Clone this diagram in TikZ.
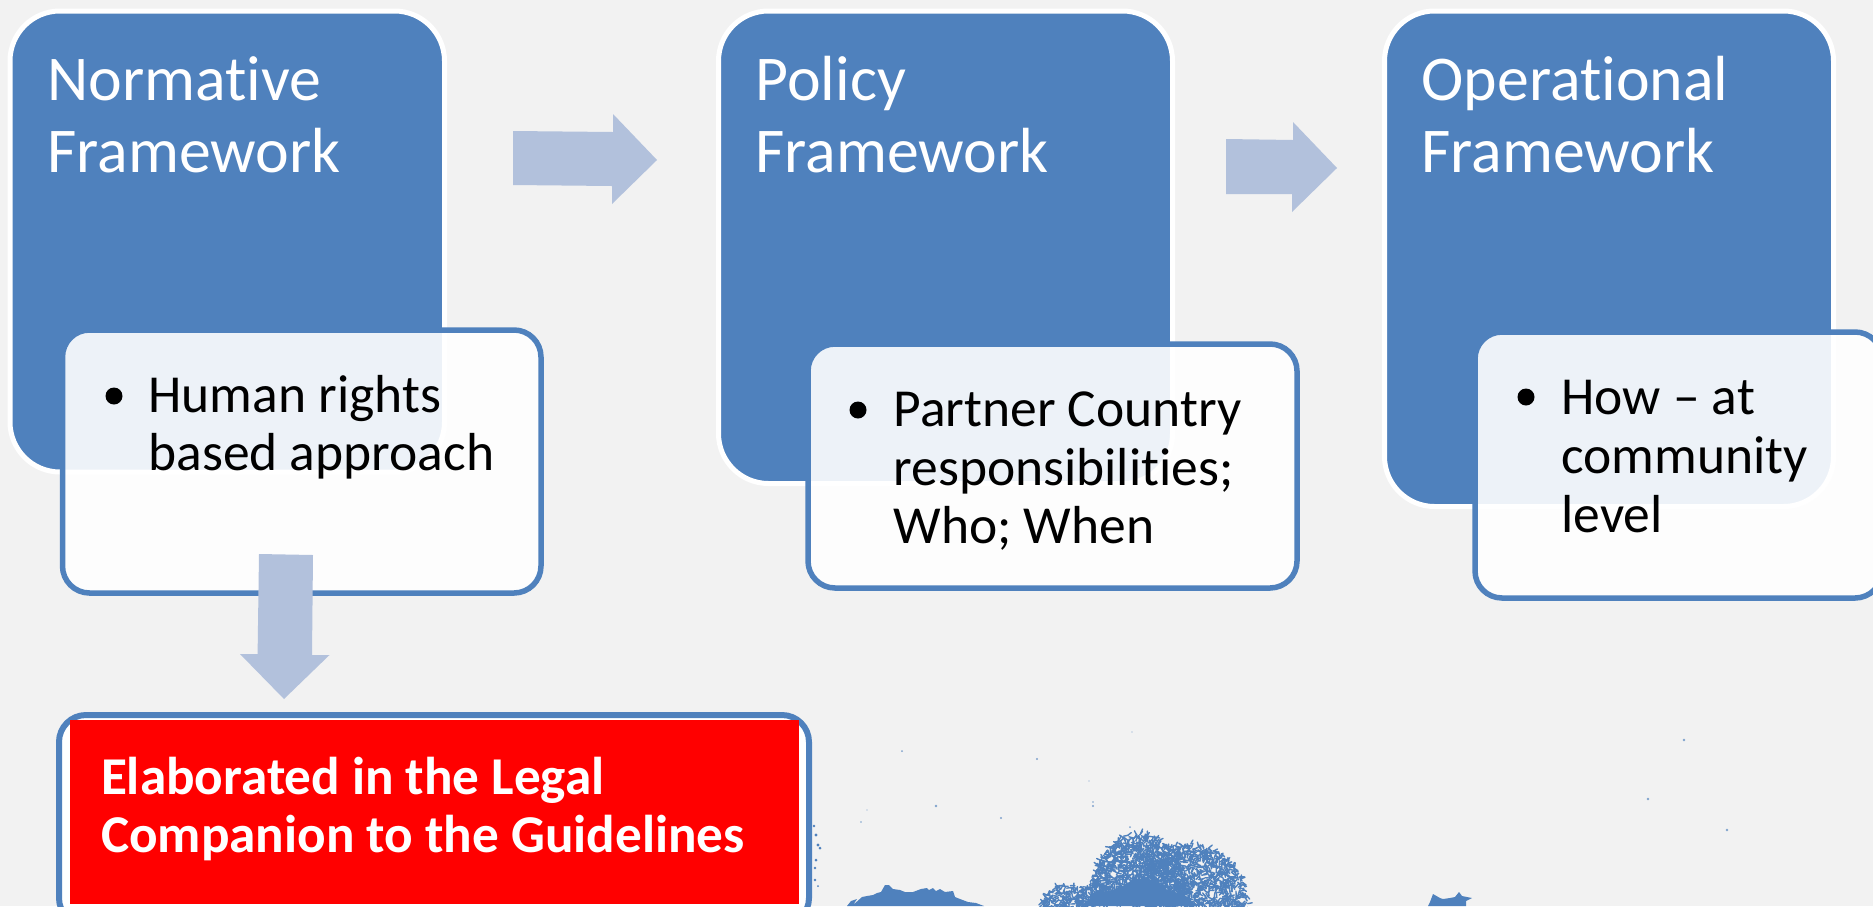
\documentclass[tikz,border=0pt]{standalone}
\usepackage{fontspec}
\setmainfont{Carlito}[Ligatures=NoCommon]
\definecolor{pagebg}{HTML}{F2F2F2}
\definecolor{accent}{HTML}{4F81BD}
\definecolor{arrowblue}{HTML}{B2C1DC}
\definecolor{alert}{HTML}{FF0000}
\tikzset{
  x=1pt,y=-1pt,
  panel/.style={fill=accent,draw=white,line width=5pt,rounded corners=50pt},
  card/.style={fill=white,fill opacity=.9,draw=accent,line width=5.5pt,rounded corners=27pt},
  blockarrow/.style={fill=arrowblue,draw=none},
  headtext/.style={text=white,anchor=base west,font=\fontsize{63.8}{72}\selectfont},
  bodytext/.style={text=black,anchor=base west,font=\fontsize{53.5}{57.6}\selectfont},
  redtext/.style={text=white,anchor=base west,font=\bfseries\fontsize{53.2}{57}\selectfont},
  tree/.style={fill=accent,draw=none},
  leaf/.style={draw=accent,line width=1.4pt,line cap=round},
  speck/.style={fill=accent,draw=none,opacity=.7},
}
\begin{document}
\begin{tikzpicture}
\useasboundingbox (0,0) rectangle (1873,906);
\fill[pagebg] (0,0) rectangle (1873,906);
\clip (0,0) rectangle (1873,906);
\pgfmathsetseed{4242}
% left tree mass
\fill[tree] (847,906) -- (851,901) -- (857,899) -- (853,905) -- (862,897) -- (867,896) -- (873,895) -- (877,893) -- (881,892) -- (885,885) -- (889,885) -- (893,889) -- (900,890) -- (905,892) -- (913,892) -- (921,889) -- (927,888) -- (929,890) -- (933,888) -- (936,891) -- (940,889) -- (945,892) -- (953,891) -- (955,897) -- (960,899) -- (968,902) -- (976,903) -- (984,906) -- cycle;
% main tree: three lobes of leaf strokes
\foreach \cx/\cy/\rx/\ry/\n in {1140/902/50/69/1200,1190/908/58/64/1100,1065/908/24/24/170,1092/908/16/28/100} {
  \foreach \i in {1,...,\n} {
    \pgfmathsetmacro{\lr}{sqrt(rnd)}
    \pgfmathsetmacro{\lt}{180+rnd*180}
    \pgfmathsetmacro{\lx}{\cx+\lr*\rx*cos(\lt)}
    \pgfmathsetmacro{\ly}{\cy+\lr*\ry*sin(\lt)}
    \pgfmathsetmacro{\la}{rnd*360}
    \draw[leaf] (\lx,\ly) -- ++(\la:4.5);
  }
}
\fill[tree] (1085,906) -- (1092,895) -- (1120,888) -- (1135,878) -- (1150,882) -- (1175,893) -- (1200,906) -- cycle;
% small tree
\fill[tree] (1428,906) -- (1430,902) -- (1433,894) -- (1440,898) -- (1443,899) -- (1450,898) -- (1455,897) -- (1459,892) -- (1462,896) -- (1472,898) -- (1466,901) -- (1466,906) -- cycle;
% specks
\foreach \sx/\sy/\sr in {902/751/1,1037/759/1.1,936/806/1.3,1093/806/1.1,1093/802/.9,1001/818/1.1,861/822/.9,867/810/.7,1130/827/1,1684/740/1.3,1648/799/1.3,1727/830/1.4,1132/732/.6,1089/781/.6}
  \fill[speck] (\sx,\sy) circle (\sr);
\foreach \sx/\sy/\sr in {814/826/1.3,816/835/1.6,818/845/1.7,820/848/1.5,816/860/1.5,815/868/1.4,815/880/1.3,818/886/1}
  \fill[tree] (\sx,\sy) circle (\sr);
% panels
\draw[panel] (10,11) rectangle (444.5,472);
\draw[panel] (718.5,11) rectangle (1172.5,483.5);
\draw[panel] (1384.5,11) rectangle (1833.5,506.5);
% cards
\draw[card] (62.5,330) rectangle (541,593);
\draw[card] (808,344) rectangle (1297,588);
\draw[card] (1475,332) rectangle (1882,598);
% legal box
\draw[draw=accent,fill=white,line width=6pt,rounded corners=27pt] (59,715) rectangle (809,925);
\fill[alert] (70,720) rectangle (799,904);
% arrows
\fill[blockarrow] (513,131) -- (613,132) -- (613,114) -- (657,160) -- (612,204) -- (612,186) -- (513,185) -- cycle;
\fill[blockarrow] (1226,139) -- (1293,140) -- (1293,122) -- (1337,168) -- (1292,212) -- (1292,194) -- (1226,194) -- cycle;
\fill[blockarrow] (259,554) -- (313,555) -- (312,655) -- (329.5,655) -- (284,699) -- (240,654) -- (257.6,654) -- cycle;
% text
\node[headtext] (n1) at (44,100) {Normative};
\node[headtext] (n2) at (44,172) {Framework};
\node[headtext] (p1) at (752,100) {Policy};
\node[headtext] (p2) at (752,172) {Framework};
\node[headtext] (o1) at (1418,100) {Operational};
\node[headtext] (o2) at (1418,172) {Framework};
\node[bodytext] (b1) at (145,412) {Human rights};
\node[bodytext] (b1b) at (145,470) {based approach};
\fill (114,396) circle (8.5);
\node[bodytext] (b2) at (890,426) {Partner Country};
\node[bodytext] (b2b) at (890,485) {responsibilities;};
\node[bodytext] (b2c) at (890,543) {Who; When};
\fill (858,410) circle (8.5);
\node[bodytext] (b3) at (1558,414) {How – at};
\node[bodytext] (b3b) at (1558,473) {community};
\node[bodytext] (b3c) at (1558,532) {level};
\fill (1526,397) circle (8.5);
\node[redtext] (r1) at (97.5,794) {Elaborated in the Legal};
\node[redtext] (r2) at (97.5,852) {Companion to the Guidelines};
\end{tikzpicture}
\end{document}
